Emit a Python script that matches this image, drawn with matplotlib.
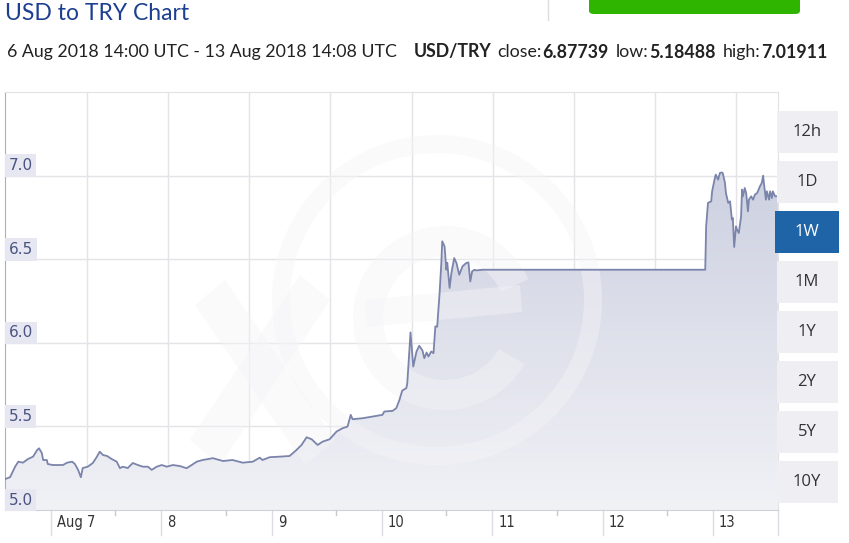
import numpy as np
import matplotlib
matplotlib.use("Agg")
import matplotlib.pyplot as plt
from matplotlib.patches import Wedge, Rectangle, FancyBboxPatch, Polygon
from matplotlib.transforms import IdentityTransform, blended_transform_factory

# hours since 6 Aug 2018 14:00 UTC, USD/TRY rate
hours = [
    0.0, 1.1, 2.2, 2.9, 3.9, 5.0, 6.1, 7.0, 7.4, 8.0, 8.3, 9.1, 9.3, 10.4, 12.6,
    13.5, 14.6, 15.2, 15.9, 16.5, 16.9, 18.0, 19.1, 20.0, 20.6, 21.3, 22.2, 23.2,
    24.3, 25.0, 25.6, 26.7, 27.8, 28.9, 30.0, 31.1, 31.9, 33.0, 34.1, 35.2, 36.5,
    38.0, 39.5, 40.6, 41.7, 43.0, 45.2, 47.4, 49.5, 51.7, 53.9, 55.4, 56.0, 57.6,
    59.7, 61.9, 63.4, 64.5, 65.6, 66.7, 68.0, 69.1, 70.6, 72.1, 73.4, 74.5, 75.2,
    75.6, 77.8, 79.9, 82.1, 82.5, 84.3, 85.1, 85.8, 86.4, 87.3, 87.5, 88.2, 88.8,
    89.5, 90.1, 90.8, 91.2, 91.7, 92.1, 92.7, 93.2, 93.6, 94.0, 94.5, 94.9, 95.1,
    95.6, 96.0, 96.2, 96.7, 97.1, 97.7, 98.2, 98.8, 99.5, 99.9, 100.3, 100.8,
    101.2, 101.6, 102.1, 102.5, 103.8, 152.3, 152.5, 152.9, 153.6, 153.8, 154.4,
    154.6, 155.1, 155.5, 155.9, 156.1, 156.6, 156.8, 157.3, 157.7, 158.1, 158.3,
    158.6, 159.0, 159.2, 159.6, 160.1, 160.3, 160.5, 160.9, 161.2, 161.6, 161.8,
    162.3, 162.7, 163.1, 163.6, 164.2, 164.6, 164.9, 165.1, 165.5, 165.7, 166.2,
    166.4, 166.8, 167.0, 167.5, 168.1,
]
rates = [
    5.185, 5.196, 5.259, 5.289, 5.283, 5.305, 5.319, 5.359, 5.369, 5.341, 5.299,
    5.299, 5.275, 5.269, 5.269, 5.283, 5.289, 5.275, 5.240, 5.196, 5.251, 5.259,
    5.281, 5.319, 5.349, 5.329, 5.323, 5.305, 5.289, 5.250, 5.259, 5.251, 5.281,
    5.269, 5.259, 5.259, 5.240, 5.259, 5.269, 5.259, 5.269, 5.263, 5.250, 5.269,
    5.289, 5.299, 5.310, 5.293, 5.299, 5.283, 5.289, 5.313, 5.299, 5.316, 5.319,
    5.323, 5.359, 5.389, 5.435, 5.423, 5.389, 5.409, 5.423, 5.469, 5.489, 5.499,
    5.569, 5.543, 5.549, 5.559, 5.569, 5.589, 5.593, 5.609, 5.659, 5.714, 5.729,
    5.759, 6.062, 5.858, 5.948, 5.982, 5.954, 5.908, 5.942, 5.918, 5.948, 5.938,
    6.098, 6.096, 6.287, 6.477, 6.607, 6.577, 6.437, 6.479, 6.328, 6.419, 6.507,
    6.477, 6.407, 6.457, 6.467, 6.477, 6.481, 6.367, 6.427, 6.437, 6.433, 6.437,
    6.437, 6.696, 6.837, 6.846, 6.906, 6.986, 7.006, 6.976, 7.016, 7.019, 7.016,
    6.956, 6.896, 6.837, 6.846, 6.737, 6.747, 6.573, 6.696, 6.677, 6.657, 6.756,
    6.916, 6.876, 6.926, 6.896, 6.786, 6.856, 6.876, 6.856, 6.886, 6.896, 6.936,
    6.956, 7.000, 6.946, 6.856, 6.906, 6.856, 6.906, 6.866, 6.906, 6.876, 6.877,
]

y_ticks = [5.0, 5.5, 6.0, 6.5, 7.0]
y_labels = ["5.0", "5.5", "6.0", "6.5", "7.0"]
day_hours = [10, 34, 58, 82, 106, 130, 154]
day_labels = ["Aug 7", "8", "9", "10", "11", "12", "13"]
minor_hours = [24, 48, 72, 96, 120, 144]
ranges = ["12h", "1D", "1W", "1M", "1Y", "2Y", "5Y", "10Y"]
active_range = "1W"

W, H = 849, 543
fig = plt.figure(figsize=(W / 100, H / 100), dpi=100)
fig.patch.set_facecolor("white")


def fx(x):
    return x / W


def fy(y):
    return 1 - y / H


ax = fig.add_axes([fx(5), fy(510), fx(773), 418 / H])
x_end = 168.13
ax.set_xlim(0, x_end)
ax.set_ylim(5.0, 7.5)

# gradient fill under the line
poly = ax.fill_between(hours, rates, 5.0, facecolor="none", edgecolor="none")
cmap = matplotlib.colors.LinearSegmentedColormap.from_list(
    "g", [(0.945, 0.948, 0.965), (0.77, 0.785, 0.86)])
grad_vals = np.linspace(1, 0, 256).reshape(-1, 1)
img = ax.imshow(grad_vals, extent=[0, x_end, 5.0, 7.5], aspect="auto", cmap=cmap,
                origin="upper", zorder=1, vmin=0, vmax=1)
img.set_clip_path(poly.get_paths()[0], transform=ax.transData)

ax.plot(hours, rates, color="#7b84aa", lw=1.3, zorder=4, solid_joinstyle="round")

# grid
for v in y_ticks[1:]:
    ax.axhline(v, color="#e4e4e8", lw=1, zorder=0.5)
for gx in np.arange(17.8, x_end, 17.66):
    ax.axvline(gx, color="#e4e4e8", lw=1, zorder=0.5)

for s in ["top", "right"]:
    ax.spines[s].set_color("#e2e2e2")
ax.spines["left"].set_color("#a9aed0")
ax.spines["bottom"].set_color("#d0d0d8")
ax.set_xticks([])
ax.set_yticks([])

# y labels inside the plot
for v, lab in zip(y_ticks, y_labels):
    ax.text(0.75, v + 0.014, lab, fontsize=11, color="#4a5382", ha="left",
            va="bottom", zorder=6, family="DejaVu Sans",
            bbox=dict(boxstyle="square,pad=0.25", fc="#e6e7f1", ec="none"))

# x axis: day separators, minor ticks and labels
trans = blended_transform_factory(ax.transData, ax.transAxes)
for h, lab in zip(day_hours, day_labels):
    ax.plot([h, h], [0, -0.06], transform=trans, color="#dcdce2", lw=1, clip_on=False)
    ax.text(h + 1.3, -0.031, lab, transform=trans, fontsize=10.5, color="#333333",
            ha="left", va="center", family="DejaVu Sans", stretch="condensed")
ax.plot([x_end, x_end], [0, -0.06], transform=trans, color="#dcdce2", lw=1, clip_on=False)
for h in minor_hours:
    ax.plot([h, h], [0, -0.012], transform=trans, color="#c8c8d0", lw=1, clip_on=False)

# faint watermark logo
ident = IdentityTransform()
wm = dict(facecolor=(0.955, 0.955, 0.97), edgecolor="none", alpha=0.45, zorder=2,
          transform=ident)
ax.add_patch(Wedge((437, H - 300), 165, 0, 360, width=18, **wm))
ax.add_patch(Wedge((445, H - 318), 92, 25, 330, width=30, **wm))
ax.add_patch(Polygon([(365, H - 300), (520, H - 285), (522, H - 312), (367, H - 327)], **wm))
ax.add_patch(Polygon([(195, H - 305), (225, H - 280), (335, H - 440), (305, H - 465)], **wm))
ax.add_patch(Polygon([(190, H - 440), (220, H - 465), (330, H - 300), (300, H - 275)], **wm))

# header
fig.text(fx(5), fy(13), "USD to TRY Chart", fontsize=16.5, color="#1d3f91",
         family="Lato", ha="left", va="center")
fig.add_artist(plt.Line2D([fx(548), fx(548)], [fy(0), fy(20)], color="#dddddd", lw=1))
fig.add_artist(FancyBboxPatch((fx(589), fy(14)), fx(211), 30 / H,
                              boxstyle="round,pad=0,rounding_size=0.006",
                              fc="#2fb400", ec="none", transform=fig.transFigure))

# subtitle, laid out piece by piece
sub_y = fy(52)
parts = [
    ("6 Aug 2018 14:00 UTC - 13 Aug 2018 14:08 UTC", "normal", 17),
    ("USD/TRY", "bold", 5),
    ("close:", "normal", 1),
    ("6.87739", "bold", 7),
    ("low:", "normal", 1),
    ("5.18488", "bold", 7),
    ("high:", "normal", 1),
    ("7.01911", "bold", 0),
]
renderer = fig.canvas.get_renderer()
x = 7
for txt, wt, gap in parts:
    t = fig.text(fx(x), sub_y, txt, fontsize=12.8, color="#222222", weight=wt,
                 family="Lato", ha="left", va="center")
    x += t.get_window_extent(renderer).width + gap

# range buttons
for i, r in enumerate(ranges):
    top = 111 + 50 * i
    active = r == active_range
    x0 = 775 if active else 777
    w = 64 if active else 61
    fig.add_artist(Rectangle((fx(x0), fy(top + 42)), fx(w), 42 / H,
                             fc="#1f64a6" if active else "#efeff3", ec="none",
                             transform=fig.transFigure))
    fig.text(fx(807), fy(top + 21), r, fontsize=12, family="Open Sans",
             color="white" if active else "#333333", ha="center", va="center")

fig.savefig("out.png", dpi=100)
